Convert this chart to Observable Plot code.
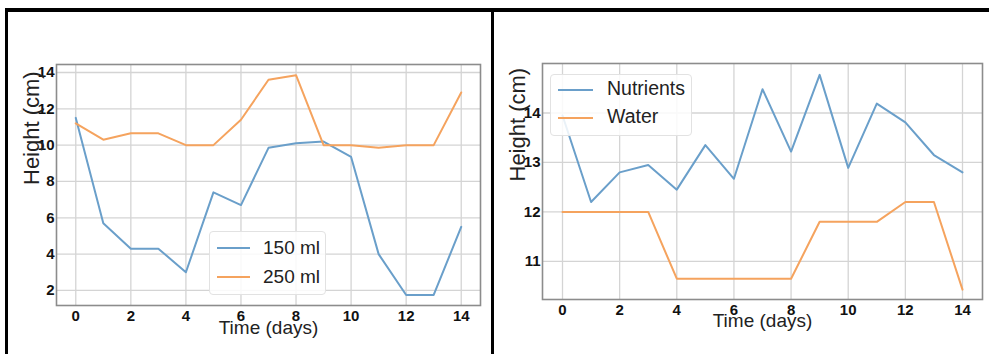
<!DOCTYPE html>
<html>
<head>
<meta charset="utf-8">
<script src="https://cdn.jsdelivr.net/npm/d3@7"></script>
<script src="https://cdn.jsdelivr.net/npm/@observablehq/plot@0.6"></script>
<style>
  html, body { margin: 0; padding: 0; background: #fff; }
  #page { position: relative; width: 989px; height: 354px; overflow: hidden; background: #fff; font-family: "Liberation Sans", Arial, sans-serif; }
  .panel { position: absolute; top: 0; }
  .bar { position: absolute; background: #000; z-index: 5; }
  .legend { position: absolute; z-index: 4; background: rgba(255,255,255,0.85); border: 1px solid #e2e2e2; border-radius: 4px; box-sizing: border-box; }
  .legend .sw { position: absolute; height: 2px; }
  .legend .lb { position: absolute; white-space: nowrap; color: #222; line-height: 1; }
</style>
</head>
<body>
<div id="page">
  <div class="panel" id="left" style="left:0;width:490px;height:354px;"></div>
  <div class="panel" id="right" style="left:494px;width:495px;height:354px;"></div>
  <div class="bar" style="left:5px;top:8px;width:984px;height:4px;"></div>
  <div class="bar" style="left:5px;top:8px;width:3px;height:346px;"></div>
  <div class="bar" style="left:491px;top:8px;width:3px;height:346px;"></div>
  <div id="legendL" class="legend" style="left:209px;top:231px;width:117px;height:64px;"></div>
  <div id="legendR" class="legend" style="left:550px;top:74px;width:142px;height:62px;"></div>
</div>
<script>
// ---- data ----
const days = [0, 1, 2, 3, 4, 5, 6, 7, 8, 9, 10, 11, 12, 13, 14];
const ml150 = [11.5, 5.7, 4.3, 4.3, 3.0, 7.4, 6.7, 9.85, 10.1, 10.2, 9.35, 4.0, 1.75, 1.75, 5.5];
const ml250 = [11.2, 10.3, 10.65, 10.65, 10.0, 10.0, 11.4, 13.6, 13.85, 10.0, 10.0, 9.85, 10.0, 10.0, 12.9];
const nutrients = [13.95, 12.2, 12.8, 12.95, 12.45, 13.35, 12.67, 14.48, 13.22, 14.77, 12.89, 14.19, 13.81, 13.15, 12.8];
const water = [12.0, 12.0, 12.0, 12.0, 10.65, 10.65, 10.65, 10.65, 10.65, 11.8, 11.8, 11.8, 12.2, 12.2, 10.43];
const xTicks = [0, 2, 4, 6, 8, 10, 12, 14];
const yTicksLeft = [2, 4, 6, 8, 10, 12, 14];
const yTicksRight = [11, 12, 13, 14];
const seriesLeft = ["150 ml", "250 ml"];
const seriesRight = ["Nutrients", "Water"];
const xLabel = "Time (days)";
const yLabel = "Height (cm)";

const BLUE = "#6a9fca";
const ORANGE = "#f5a35e";

function table(names, arrays) {
  const rows = [];
  names.forEach((n, k) => days.forEach((d, i) => rows.push({day: d, value: arrays[k][i], series: n})));
  return rows;
}

function chart(opts) {
  const rows = table(opts.names, opts.arrays);
  return Plot.plot({
    width: opts.width, height: 354,
    marginLeft: opts.ml, marginRight: opts.mr, marginTop: opts.mt, marginBottom: opts.mb,
    x: {domain: [-0.7, 14.7], label: null},
    y: {domain: opts.yDomain, label: null},
    color: {domain: opts.names, range: [BLUE, ORANGE]},
    style: {background: "transparent", fontFamily: "'Liberation Sans', Arial, sans-serif", color: "#111"},
    marks: [
      Plot.gridX(xTicks, {stroke: "#d4d4d4", strokeOpacity: 1, strokeWidth: 1.3}),
      Plot.gridY(opts.yTicks, {stroke: "#d4d4d4", strokeOpacity: 1, strokeWidth: 1.3}),
      Plot.frame({stroke: "#8c8c8c", strokeWidth: 1.6}),
      Plot.axisX(xTicks, {tickSize: 0, tickPadding: 5, label: null}),
      Plot.axisY(opts.yTicks, {tickSize: 0, tickPadding: 2, label: null}),
      Plot.line(rows, {x: "day", y: "value", z: "series", stroke: "series", strokeWidth: 2}),
      Plot.text([xLabel], {text: d => d, frameAnchor: "bottom", dy: opts.xdy, fontSize: 19, fill: "#222"}),
      Plot.text([yLabel], {text: d => d, frameAnchor: "left", dx: opts.ydx, rotate: -90, fontSize: 22, fill: "#222"})
    ]
  });
}

document.getElementById("left").appendChild(chart({
  width: 490, ml: 56, mr: 10, mt: 64, mb: 49,
  yDomain: [1.17, 14.44], yTicks: yTicksLeft,
  names: seriesLeft, arrays: [ml150, ml250], xdy: 28, ydx: -25
}));
document.getElementById("right").appendChild(chart({
  width: 495, ml: 48, mr: 7, mt: 63, mb: 55,
  yDomain: [10.23, 15.0], yTicks: yTicksRight,
  names: seriesRight, arrays: [nutrients, water], xdy: 27, ydx: -25
}));

// enlarge & embolden numeric tick labels
d3.selectAll("#page svg text")
  .filter(function () { return /^\s*\d+\s*$/.test(this.textContent); })
  .attr("font-size", null)
  .style("font-size", "15px").style("font-weight", "bold").style("fill", "#111");

function legend(id, names, cfg) {
  const el = document.getElementById(id);
  const colors = [BLUE, ORANGE];
  names.forEach((n, i) => {
    const sw = document.createElement("div");
    sw.className = "sw";
    sw.style.left = cfg.swL + "px";
    sw.style.width = cfg.swW + "px";
    sw.style.top = (cfg.y0 + i * cfg.dy - 1) + "px";
    sw.style.background = colors[i];
    el.appendChild(sw);
    const lb = document.createElement("div");
    lb.className = "lb";
    lb.textContent = n;
    lb.style.left = cfg.txL + "px";
    lb.style.top = (cfg.y0 + i * cfg.dy - cfg.fs * 0.55) + "px";
    lb.style.fontSize = cfg.fs + "px";
    el.appendChild(lb);
  });
}
legend("legendL", seriesLeft, {swL: 7, swW: 33, txL: 53, y0: 16, dy: 29, fs: 19});
legend("legendR", seriesRight, {swL: 7, swW: 35, txL: 56, y0: 15, dy: 28, fs: 19.5});
</script>
</body>
</html>
